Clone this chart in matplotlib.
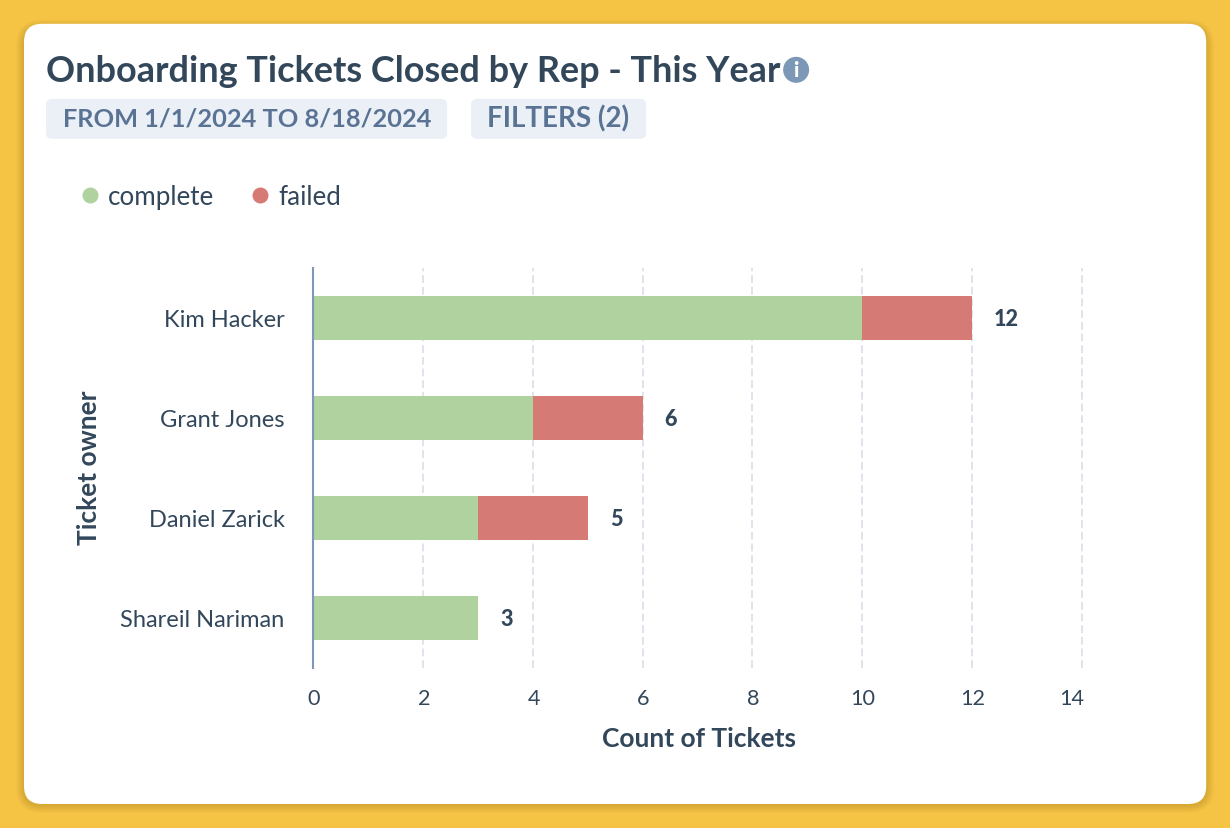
import matplotlib
matplotlib.use("Agg")
import matplotlib.pyplot as plt
from matplotlib.patches import FancyBboxPatch, Circle
from matplotlib.lines import Line2D
from matplotlib.transforms import ScaledTranslation

owners = ["Kim Hacker", "Grant Jones", "Daniel Zarick", "Shareil Nariman"]
complete = [10, 4, 3, 3]
failed = [2, 2, 2, 0]
xticks = [0, 2, 4, 6, 8, 10, 12, 14]
title = "Onboarding Tickets Closed by Rep - This Year"
date_pill = "FROM 1/1/2024 TO 8/18/2024"
filter_pill = "FILTERS (2)"

W, H = 1230, 828
GREEN, RED = "#afd29e", "#d67a75"
DARK, SLATE = "#33475b", "#5a7394"
plt.rcParams["font.family"] = ["Lato", "DejaVu Sans"]

fig = plt.figure(figsize=((W + 0.2) / 100, (H + 0.2) / 100), dpi=100, facecolor="#f6c445")
bg = fig.add_axes([0, 0, 1, 1], zorder=0)
bg.set_xlim(0, W); bg.set_ylim(H, 0); bg.axis("off")

def rbox(x0, y0, x1, y1, r, **kw):
    bg.add_patch(FancyBboxPatch((x0 + r, y0 + r), x1 - x0 - 2 * r, y1 - y0 - 2 * r,
                                boxstyle=f"round,pad={r},rounding_size={r}", linewidth=0, **kw))

for i in range(8, 0, -1):
    rbox(24 - i, 24 - i + 4, 1206 + i, 804 + i + 1, 18 + i, facecolor="#8a6a10", alpha=0.035)
rbox(24, 24, 1206, 804, 18, facecolor="white")
rbox(46, 99, 447, 139, 6, facecolor="#eaf0f6")
rbox(471, 99, 646, 139, 6, facecolor="#eaf0f6")
bg.add_patch(Circle((796, 70), 13, facecolor="#7c98b6", linewidth=0))
bg.text(796, 70.5, "i", color="white", fontsize=15, fontweight="black", ha="center", va="center")
bg.text(46, 71, title, color=DARK, fontsize=25.9, fontweight="bold", va="center", ha="left")
bg.text(63, 118.5, date_pill, color=SLATE, fontsize=18.3, fontweight="bold", va="center", ha="left")
bg.text(487, 119, filter_pill, color=SLATE, fontsize=20, fontweight="bold", va="center", ha="left")

# 4 bands of 100 px between y=268 and y=668
X0, SCALE, XMAX = 313.0, 54.9, 14.05
ax = fig.add_axes([X0 / W, 1 - 668 / H, (SCALE * XMAX) / W, 400 / H], zorder=1)
ax.patch.set_alpha(0)
y = list(range(len(owners)))
ax.barh(y, complete, height=0.44, color=GREEN, zorder=3)
ax.barh(y, failed, left=complete, height=0.44, color=RED, zorder=3)
ax.set_ylim(len(owners) - 0.5, -0.5)
ax.set_xlim(0, XMAX)
ax.set_yticks(y, owners)
ax.set_xticks(xticks)
ax.tick_params(axis="x", length=0, labelsize=15.6, labelcolor=DARK, pad=15)
ax.tick_params(axis="y", length=0, labelsize=17, labelcolor=DARK, pad=20.5)
ax.xaxis.grid(True, color="#dfe3eb", linewidth=1.4, linestyle=(0, (4, 2)), zorder=0)
ax.set_axisbelow(True)
for side in ("top", "right", "bottom"):
    ax.spines[side].set_visible(False)
ax.spines["left"].set_color("#7c98b6")
ax.spines["left"].set_linewidth(1.5)
ax.spines["left"].set_zorder(5)
for gl in ax.get_xgridlines()[:1]:
    gl.set_visible(False)

for lab, tick in zip(ax.get_xticklabels(), xticks):
    dx = -10 if tick == 14 else 1
    lab.set_transform(lab.get_transform() + ScaledTranslation(dx / 100, 0, fig.dpi_scale_trans))

for i, (c, f) in enumerate(zip(complete, failed)):
    ax.annotate(str(c + f), (c + f, i), xytext=(16, -1), textcoords="offset points",
                color=DARK, fontsize=15.6, fontweight="black", va="center", ha="left")

ax.set_xlabel("Count of Tickets", color=DARK, fontsize=19, fontweight="bold")
ax.set_ylabel("Ticket owner", color=DARK, fontsize=19, fontweight="bold")
ax.xaxis.set_label_coords((699 - X0) / (SCALE * XMAX), -59 / 400)
ax.yaxis.set_label_coords((101 - X0) / (SCALE * XMAX), 0.5)

handles = [Line2D([], [], linestyle="", marker="o", markersize=11.5, markeredgewidth=0, color=GREEN),
           Line2D([], [], linestyle="", marker="o", markersize=11.5, markeredgewidth=0, color=RED)]
leg = fig.legend(handles, ["complete", "failed"], loc="center left",
                 bbox_to_anchor=(72 / W, 1 - 197 / H), ncols=2, frameon=False,
                 fontsize=18.7, labelcolor=DARK, handletextpad=0.0, columnspacing=1.05,
                 handlelength=1.4, borderpad=0, borderaxespad=0)
leg.set_zorder(3)

fig.savefig("out.png", dpi=100, facecolor=fig.get_facecolor())
